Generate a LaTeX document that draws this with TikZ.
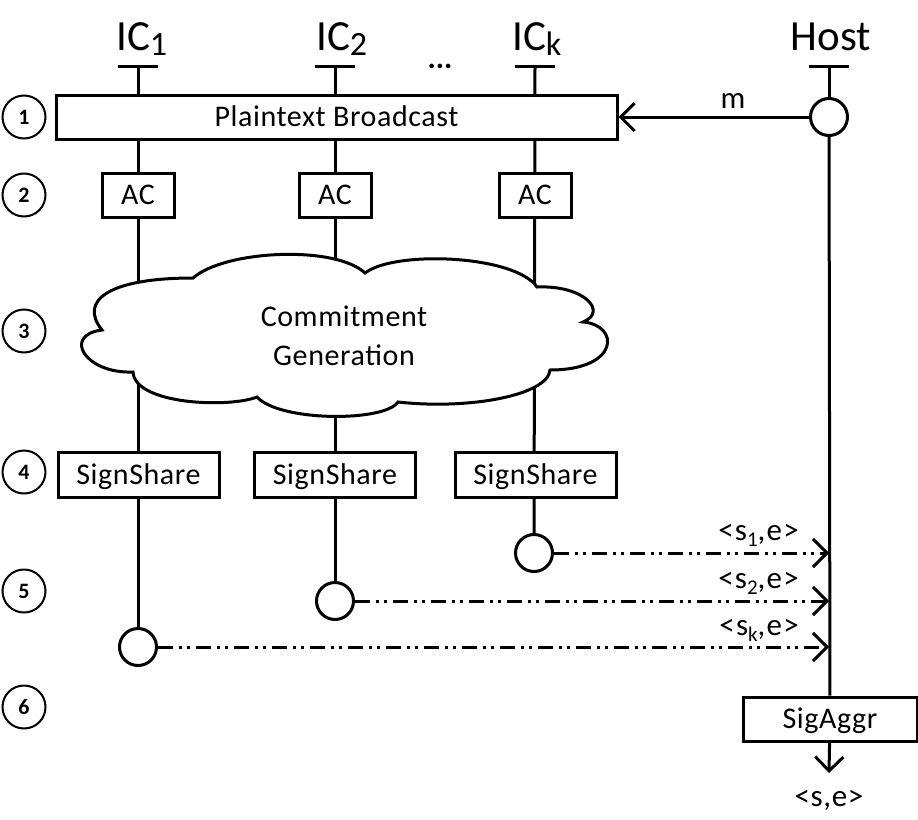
\documentclass[tikz,border=0pt]{standalone}
\usepackage{fontspec}
\setmainfont{Carlito}
\newfontfamily\bodyfont[LetterSpace=2]{Carlito}
\newfontfamily\lblfont[LetterSpace=4]{Carlito}
\usetikzlibrary{arrows.meta,backgrounds}
\newcommand\hsub[1]{\raisebox{-5pt}{\fontsize{34}{34}\selectfont #1}}
\newcommand\lsub[1]{\raisebox{-6pt}{\fontsize{21}{21}\selectfont #1}}
\begin{document}
\begin{tikzpicture}[x=1pt,y=-1pt,
  lw/.style={line width=3pt},
  box/.style={draw,lw,fill=white,inner sep=0pt,text height=19pt,text depth=0pt,
              font=\bodyfont\fontsize{30}{36}\selectfont},
  stepc/.style={draw,circle,line width=2pt,minimum size=43pt,inner sep=0pt,
                font=\fontsize{22}{24}\selectfont\bfseries},
  msgc/.style={draw,circle,lw,fill=white,minimum size=37pt,inner sep=0pt},
  hdr/.style={font=\fontsize{43}{50}\selectfont,inner sep=0pt},
  lbl/.style={font=\bodyfont\fontsize{31}{36}\selectfont,inner sep=0pt},
  slbl/.style={font=\lblfont\fontsize{31}{36}\selectfont,inner sep=0pt},
  dashdd/.style={lw,dash pattern=on 15pt off 6pt on 3pt off 5pt on 3pt off 6pt},
  barb/.style={-{Straight Barb[length=14pt,width=28pt,line width=3pt]}}
]
\useasboundingbox (0,0) rectangle (918,819);

% headers
\node[hdr,anchor=base west] (h1) at (116,50) {IC\hsub{1}};
\node[hdr,anchor=base west] (h2) at (316,50) {IC\hsub{2}};
\node[hdr,anchor=base west] (hk) at (512,50) {IC\hsub{k}};
\node[hdr,anchor=base] (hh) at (831,50) {Host};
\node[lbl,font=\bfseries\fontsize{31}{36}\selectfont,anchor=base] (dots) at (440,68) {...};

% tick coordinates
\coordinate (t1) at (138,66);
\coordinate (t2) at (335,66);
\coordinate (tk) at (535,66);
\coordinate (th) at (829,66);
\foreach \t in {t1,t2,tk,th}
  \draw[lw] ([xshift=-20pt]\t) -- ([xshift=20pt]\t);

% step circles
\node[stepc] (s1) at (24,117) {1};
\node[stepc] (s2) at (24,195) {2};
\node[stepc] (s3) at (24,331) {3};
\node[stepc] (s4) at (24,472) {4};
\node[stepc] (s5) at (24,591) {5};
\node[stepc] (s6) at (24,707) {6};

% boxes
\node[box,minimum width=561pt,minimum height=44pt] (pb) at (336.5,117) {Plaintext Broadcast};
\node[box,minimum width=72pt,minimum height=44pt] (ac1) at (138,195) {AC};
\node[box,minimum width=72pt,minimum height=44pt] (ac2) at (335,195) {AC};
\node[box,minimum width=72pt,minimum height=44pt] (ack) at (535,195) {AC};
\node[box,minimum width=161pt,minimum height=45pt] (ss1) at (138.5,474.5) {SignShare};
\node[box,minimum width=161pt,minimum height=45pt] (ss2) at (335,474.5) {SignShare};
\node[box,minimum width=161pt,minimum height=45pt] (ssk) at (535.5,474.5) {SignShare};
\node[box,minimum width=174pt,minimum height=44pt] (sa) at (830,719) {SigAggr};

% cloud
\draw[lw,fill=white,line join=miter]
  (102,330) .. controls (78,300) and (110,278) .. (193,278)
  .. controls (225,250) and (335,245) .. (365,273)
  .. controls (395,250) and (515,255) .. (537,287)
  .. controls (585,285) and (608,312) .. (583,322)
  .. controls (620,325) and (620,370) .. (550,370)
  .. controls (548,395) and (470,410) .. (398,402)
  .. controls (385,422) and (280,422) .. (257,397)
  .. controls (230,408) and (135,405) .. (133,372)
  .. controls (85,374) and (62,335) .. (102,330) -- cycle;
\node[lbl,font=\bodyfont\fontsize{30}{36}\selectfont,anchor=base] (cg1) at (344,326) {Commitment};
\node[lbl,font=\bodyfont\fontsize{30}{36}\selectfont,anchor=base] (cg2) at (344,365) {Generation};

% message circles
\node[msgc] (hc) at (829,117) {};
\node[msgc] (ck) at (534,553) {};
\node[msgc] (c2) at (335,601) {};
\node[msgc] (c1) at (138,647) {};

% lifelines
\begin{scope}[on background layer]
  \draw[lw] (t1) -- (c1);
  \draw[lw] (t2) -- (c2);
  \draw[lw] (tk) -- (ck);
  \draw[lw] (th) -- (hc);
  \draw[lw] (hc) -- (sa);
\end{scope}

% messages
\draw[lw,barb] (hc.west) -- (pb.east);
\node[lbl,anchor=base] (m) at (733,108) {m};
\draw[dashdd,barb] (ck.east) -- (ck.east -| th);
\draw[dashdd,barb] (c2.east) -- (c2.east -| th);
\draw[dashdd,barb] (c1.east) -- (c1.east -| th);
\node[slbl,anchor=base east] (l1) at (799,540) {<s\lsub{1},e>};
\node[slbl,anchor=base east] (l2) at (799,588) {<s\lsub{2},e>};
\node[slbl,anchor=base east] (lk) at (799,635) {<s\lsub{k},e>};

% output
\coordinate (out) at (829,773);
\draw[lw,barb] (sa) -- (out);
\node[lbl,anchor=base] (res) at (829,806) {<s,e>};
\end{tikzpicture}
\end{document}
